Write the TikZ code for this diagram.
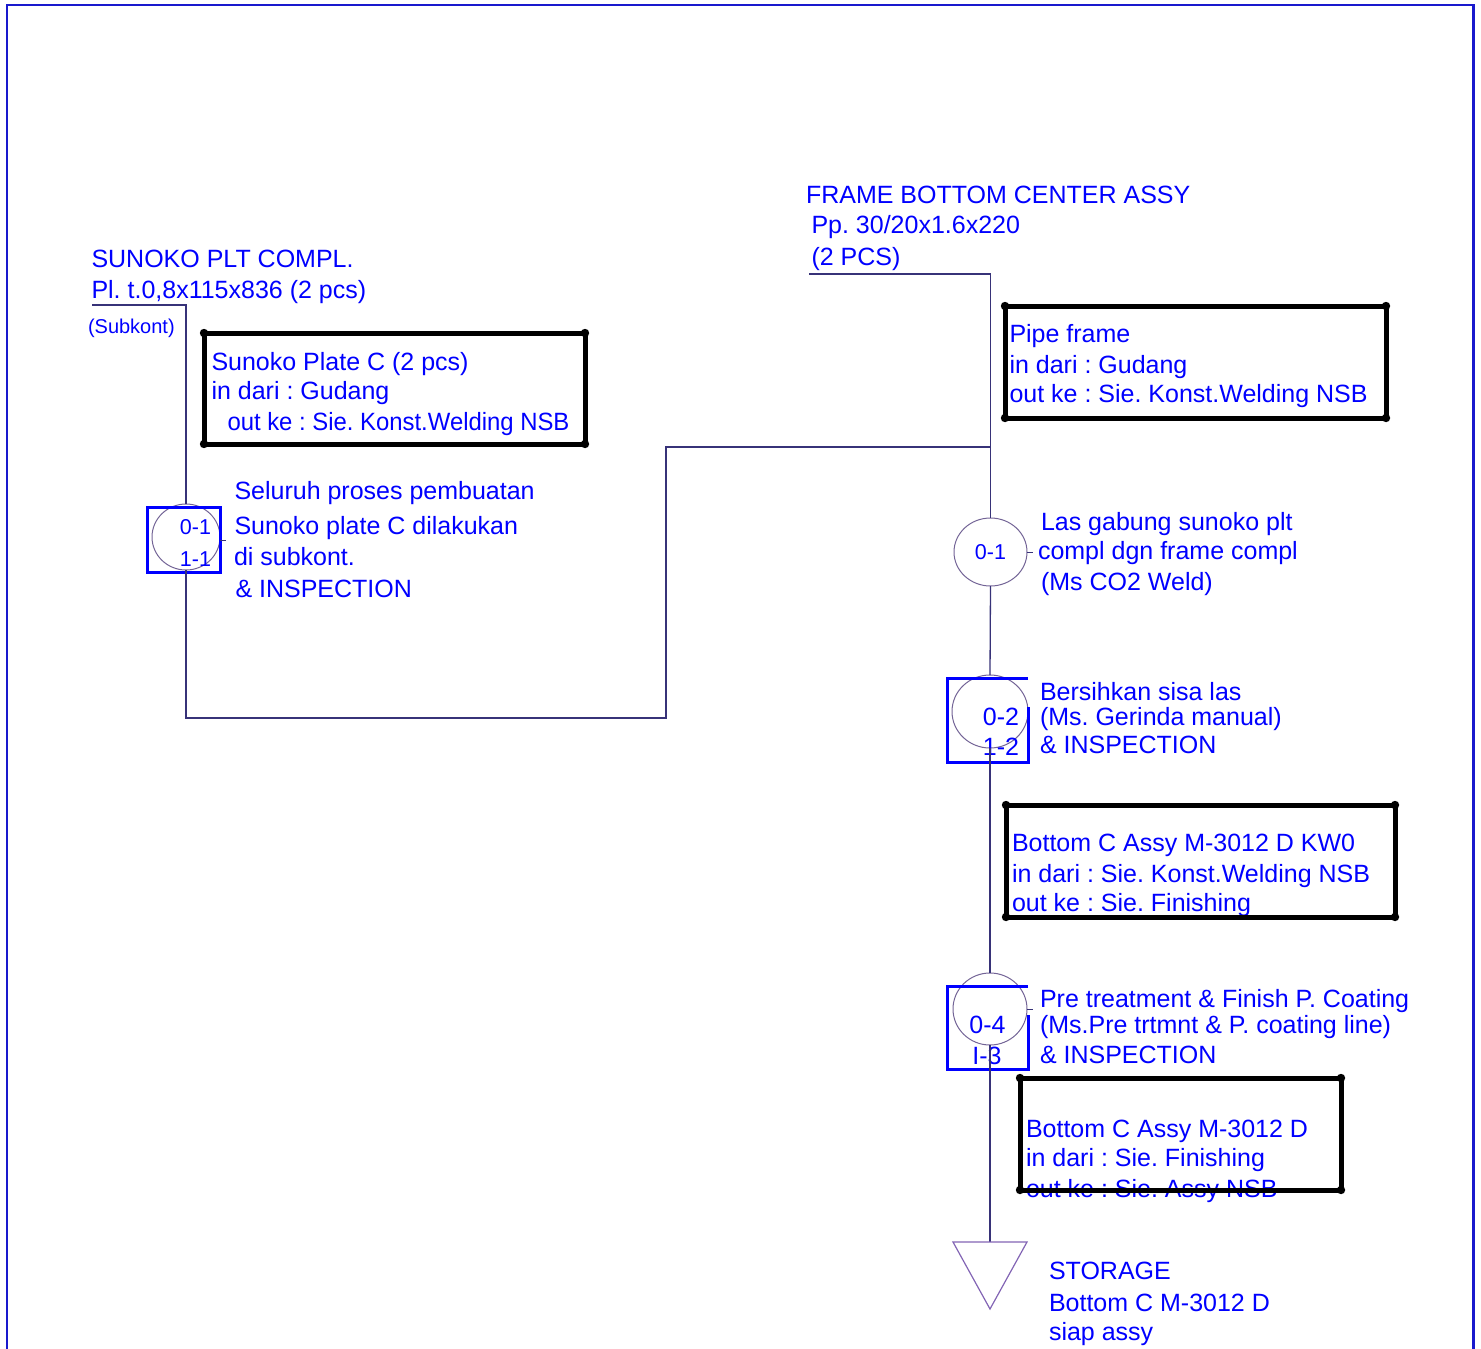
\documentclass[tikz,border=0pt]{standalone}
\usepackage{fontspec}
\setmainfont{Liberation Sans}
\usetikzlibrary{shapes.geometric}
\definecolor{txtblue}{RGB}{0,0,255}
\definecolor{frameblue}{RGB}{25,25,205}
\definecolor{connclr}{RGB}{55,50,120}
\definecolor{circclr}{RGB}{115,100,150}
\definecolor{triclr}{RGB}{130,100,180}
\frenchspacing
\begin{document}
\frenchspacing
\begin{tikzpicture}[x=1pt,y=-1pt,
  txt/.style={font=\fontsize{25}{30}\selectfont\frenchspacing, text=txtblue, inner sep=0pt, outer sep=0pt, anchor=base west},
  smalltxt/.style={txt, font=\fontsize{20}{24}\selectfont\frenchspacing},
  numtxt/.style={font=\fontsize{21.5}{26}\selectfont, text=txtblue, inner sep=0pt, outer sep=0pt, anchor=base east},
  bignum/.style={numtxt, font=\fontsize{25}{30}\selectfont},
  infobox/.style={draw=black, line width=5pt, inner sep=0pt, outer sep=0pt, anchor=north west},
  nub/.style={fill=black},
  connector/.style={draw=connclr, line width=1.3pt},
  opcirc/.style={ellipse, draw=circclr, line width=1pt, inner sep=0pt, outer sep=0pt},
  inspbox/.style={draw=txtblue, line width=3pt},
  tickline/.style={draw=connclr, line width=1pt},
  frameline/.style={draw=frameblue, line width=2.3pt},
  storetri/.style={draw=triclr, line width=1.2pt}
]
\useasboundingbox (0,0) rectangle (1481,1349);

% outer frame
\draw[frameline] (7,1352) -- (7,4.8) -- (1473.5,4.8) -- (1473.5,1352);

% ---------- text (left column) ----------
\node[txt] (t1) at (91.5,267) {SUNOKO PLT COMPL.};
\node[txt] (t2) at (91.5,298) {Pl. t.0,8x115x836 (2 pcs)};
\node[smalltxt] (t3) at (88,333) {(Subkont)};
\node[txt] (b1a) at (211.5,370) {Sunoko Plate C (2 pcs)};
\node[txt] (b1b) at (211.5,399) {in dari : Gudang};
\node[txt] (b1c) at (227.5,430) {\scalebox{0.955}[1]{out ke : Sie. Konst.Welding NSB}};
\node[txt] (s1) at (234.5,499) {Seluruh proses pembuatan};
\node[txt] (s2) at (234.5,534) {Sunoko plate C dilakukan};
\node[txt] (s3) at (234,565) {di subkont.};
\node[txt] (s4) at (235.5,597) {\& INSPECTION};

% ---------- text (right column) ----------
\node[txt] (f1) at (806,203) {FRAME BOTTOM CENTER ASSY};
\node[txt] (f2) at (811.5,233) {Pp. 30/20x1.6x220};
\node[txt] (f3) at (811.5,265) {(2 PCS)};
\node[txt] (b2a) at (1009.5,342) {Pipe frame};
\node[txt] (b2b) at (1009.5,373) {in dari : Gudang};
\node[txt] (b2c) at (1009.5,402) {out ke : Sie. Konst.Welding NSB};
\node[txt] (l1) at (1041,530.5) {Las gabung sunoko plt};
\node[txt] (l2) at (1038,559) {compl dgn frame compl};
\node[txt] (l3) at (1041,590) {(Ms CO2 Weld)};
\node[txt] (g1) at (1040,700) {Bersihkan sisa las};
\node[txt] (g2) at (1040,725) {(Ms. Gerinda manual)};
\node[txt] (g3) at (1040,753) {\& INSPECTION};
\node[txt] (b3a) at (1012,851) {Bottom C Assy M-3012 D KW0};
\node[txt] (b3b) at (1012,882) {in dari : Sie. Konst.Welding NSB};
\node[txt] (b3c) at (1012,911) {out ke : Sie. Finishing};
\node[txt] (p1) at (1040,1007) {Pre treatment \& Finish P. Coating};
\node[txt] (p2) at (1040,1033) {(Ms.Pre trtmnt \& P. coating line)};
\node[txt] (p3) at (1040,1063) {\& INSPECTION};
\node[txt] (b4a) at (1026,1137) {Bottom C Assy M-3012 D};
\node[txt] (b4b) at (1026,1166) {in dari : Sie. Finishing};
\node[txt] (b4c) at (1026,1197) {out ke : Sie. Assy NSB};
\node[txt] (st1) at (1049,1279) {STORAGE};
\node[txt] (st2) at (1049,1311) {Bottom C M-3012 D};
\node[txt] (st3) at (1049,1340) {siap assy};

% ---------- info boxes ----------
\node[infobox, minimum width=381pt, minimum height=111pt] (box1) at (204,333) {};
\node[infobox, minimum width=381pt, minimum height=112pt] (box2) at (1005,306) {};
\node[infobox, minimum width=389pt, minimum height=112pt] (box3) at (1006,805) {};
\node[infobox, minimum width=321pt, minimum height=112pt] (box4) at (1020,1078) {};
\foreach \b in {box1,box2,box3,box4}
  \foreach \c in {north west,north east,south west,south east}
    \fill[nub] (\b.\c) circle (4.2pt);

% ---------- operation circles ----------
\node[opcirc, minimum width=68pt, minimum height=66pt] (op1) at (186,537) {};
\node[opcirc, minimum width=73pt, minimum height=68pt,
      font=\fontsize{21.5}{26}\selectfont, text=txtblue] (op2) at (990.5,552) {0-1};
\node[opcirc, minimum width=76pt, minimum height=73pt] (op3) at (990,711.5) {};
\node[opcirc, minimum width=74pt, minimum height=72pt] (op4) at (990,1009) {};

\node[numtxt] (n1a) at (211,534) {0-1};
\node[numtxt] (n1b) at (211,566) {1-1};
\node[bignum] (n3a) at (1019,725) {0-2};
\node[bignum] (n3b) at (1019,755) {1-2};
\node[bignum, anchor=base] (n4a) at (987.5,1033) {0-4};
\node[bignum, anchor=base] (n4b) at (987,1064) {I-3};

% inspection squares
\draw[inspbox] (147,507) rectangle (220.5,572);
\draw[inspbox] (1028,678) -- (947.5,678) -- (947.5,762) -- (1028,762) -- (1028,707);
\draw[inspbox] (1028,986) -- (947.5,986) -- (947.5,1069) -- (1028,1069) -- (1028,1015);

% ---------- connectors ----------
\coordinate (lstart) at (92,305);
\coordinate (lcorner) at (186,305);
\coordinate (lbot) at (186,718);
\coordinate (mbot) at (666,718);
\coordinate (mtop) at (666,447);
\coordinate (join) at (990.5,447);
\coordinate (rstart) at (809,274);
\coordinate (rcorner) at (990.5,274);
\coordinate (store) at (990,1242);

\draw[connector] (lstart) -- (lcorner) -- (op1.north);
\draw[connector] (op1.south) -- (lbot) -- (mbot) -- (mtop) -- (join);
\draw[connector] (rstart) -- (rcorner) -- (op2.north);
\draw[connector] (op2.south) -- (op3.north);
\draw[connector] (op3.south) -- (op4.north);
\draw[connector] (op4.south) -- (store);

% small ticks
\draw[tickline] (op1.east) ++(0,3) -- ++(6,0);
\draw[tickline] (op2.east) -- ++(6,0);
\draw[tickline] (op4.east) -- ++(6,0);

% storage triangle
\draw[storetri] (953,1242) -- (1027,1242) -- (990,1309) -- cycle;
\end{tikzpicture}
\end{document}
